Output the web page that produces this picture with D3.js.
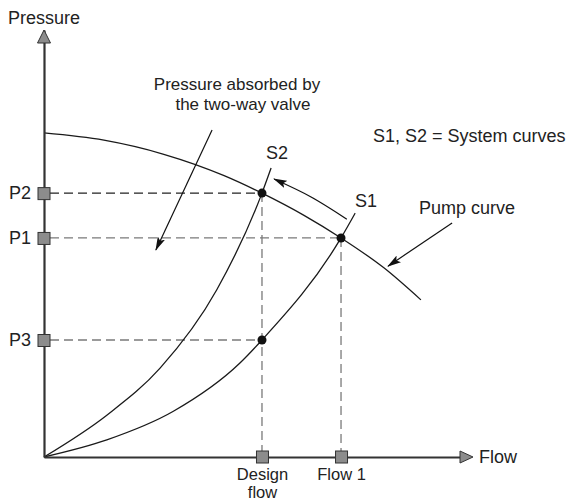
<!DOCTYPE html>
<html>
<head>
<meta charset="utf-8">
<script src="https://cdn.jsdelivr.net/npm/d3@7"></script>
<style>
  body { margin: 0; background: #fff; }
  text { font-family: "Liberation Sans", Arial, sans-serif; fill: #222; }
</style>
</head>
<body>
<div class="graph"></div>
<script>
// curves (flow and pressure in % of axis)
var pumpFlow = [0, 14.4, 28.8, 43.3, 52.4, 62.5, 71.4, 81.7, 90.6];
var pumpPressure = [75.9, 74.2, 70.9, 65.9, 61.8, 56.6, 51.3, 44.3, 36.8];
var s1Flow = [0, 15.1, 31.1, 47.1, 52.4, 71.4, 74.8];
var s1Pressure = [0, 4.0, 10.7, 22.0, 27.4, 51.3, 57.1];
var s2Flow = [0, 15.1, 27.9, 41.5, 52.4, 54.6];
var s2Pressure = [0, 9.8, 20.8, 39.1, 61.8, 67.7];

// tick marks on the axes
var pressureLabels = ['P2', 'P1', 'P3'];
var pressureValues = [61.8, 51.3, 27.4];
var pressureFlows = [52.4, 71.4, 52.4];
var flowLabels = ['Design\nflow', 'Flow 1'];
var flowValues = [52.4, 71.4];
var flowPressures = [61.8, 51.3];

var width = 575, height = 503;

var svg = d3.select('div.graph')
  .append('svg')
    .attr('width', width)
    .attr('height', height);

var x = d3.scaleLinear().domain([0, 100]).range([44, 460]);
var y = d3.scaleLinear().domain([0, 100]).range([457, 30]);

var defs = svg.append('defs');
defs.append('marker')
    .attr('id', 'head')
    .attr('markerUnits', 'userSpaceOnUse')
    .attr('viewBox', '0 0 14 8')
    .attr('refX', 13)
    .attr('refY', 4)
    .attr('markerWidth', 14)
    .attr('markerHeight', 8)
    .attr('orient', 'auto')
  .append('path')
    .attr('d', 'M0,0L14,4L0,8L3,4Z')
    .attr('fill', '#111');

// dashed guide lines
svg.selectAll('.hdash')
  .data(pressureValues)
  .enter()
  .append('line')
    .attr('x1', x(0) + 6)
    .attr('x2', (d, i) => x(pressureFlows[i]))
    .attr('y1', (d) => y(d))
    .attr('y2', (d) => y(d))
    .attr('stroke', (d, i) => i === 0 ? '#222' : '#7a7a7a')
    .attr('stroke-width', 1.3)
    .attr('stroke-dasharray', '9,5');

svg.selectAll('.vdash')
  .data(flowValues)
  .enter()
  .append('line')
    .attr('x1', (d) => x(d))
    .attr('x2', (d) => x(d))
    .attr('y1', (d, i) => y(flowPressures[i]))
    .attr('y2', y(0) - 6)
    .attr('stroke', '#7a7a7a')
    .attr('stroke-width', 1.3)
    .attr('stroke-dasharray', '9,5');

// curves
var curveLine = d3.line()
  .x((d) => x(d[0]))
  .y((d) => y(d[1]))
  .curve(d3.curveMonotoneX);

var line = d3.line()
  .x((d) => x(d[0]))
  .y((d) => y(d[1]))
  .curve(d3.curveCatmullRom.alpha(0.5));

[[pumpFlow, pumpPressure], [s1Flow, s1Pressure], [s2Flow, s2Pressure]].forEach((c) => {
  svg.append('path')
      .datum(c[0].map((f, i) => [f, c[1][i]]))
      .attr('d', curveLine)
      .attr('fill', 'none')
      .attr('stroke', '#1a1a1a')
      .attr('stroke-width', 1.3);
});

// operating points
svg.selectAll('.pt')
  .data(pressureValues)
  .enter()
  .append('circle')
    .attr('cx', (d, i) => x(pressureFlows[i]))
    .attr('cy', (d) => y(d))
    .attr('r', 4.5)
    .attr('fill', '#111');

// axes
var yAxis = svg.append('g')
    .attr('transform', 'translate(' + x(0) + ',0)')
    .call(d3.axisLeft(y)
      .tickValues(pressureValues)
      .tickFormat((d, i) => pressureLabels[i])
      .tickSize(0)
      .tickSizeOuter(0)
      .tickPadding(13));

var xAxis = svg.append('g')
    .attr('transform', 'translate(0,' + y(0) + ')')
    .call(d3.axisBottom(x)
      .tickValues(flowValues)
      .tickFormat((d, i) => flowLabels[i])
      .tickSize(0)
      .tickSizeOuter(0)
      .tickPadding(11));

[yAxis, xAxis].forEach((g) => {
  g.select('.domain').attr('stroke', '#333').attr('stroke-width', 2.2);
  g.selectAll('.tick text')
      .style('font-size', '18px')
      .style('font-family', '"Liberation Sans", Arial, sans-serif')
      .attr('fill', '#222');
  g.selectAll('.tick')
    .append('rect')
      .attr('x', -6)
      .attr('y', -6)
      .attr('width', 12)
      .attr('height', 12)
      .attr('fill', '#8c8c8c')
      .attr('stroke', '#333')
      .attr('stroke-width', 1);
});

xAxis.selectAll('.tick text').each(function(d, i) {
  var t = d3.select(this);
  var lines = flowLabels[i].split('\n');
  t.text(null);
  t.style('font-size', '16.5px');
  lines.forEach((l, k) => {
    t.append('tspan')
        .attr('x', 0)
        .attr('dy', k === 0 ? '12px' : '18px')
        .text(l);
  });
});

// axis arrowheads
svg.append('path')
    .attr('d', 'M' + (x(0) - 6.5) + ',' + (y(100) + 13) + 'L' + x(0) + ',' + y(100) +
               'L' + (x(0) + 6.5) + ',' + (y(100) + 13) + 'Z')
    .attr('fill', '#8c8c8c')
    .attr('stroke', '#333')
    .attr('stroke-width', 1);
svg.append('path')
    .attr('d', 'M' + x(100) + ',' + (y(0) - 6) + 'L' + (x(100) + 13) + ',' + y(0) +
               'L' + x(100) + ',' + (y(0) + 6) + 'Z')
    .attr('fill', '#8c8c8c')
    .attr('stroke', '#333')
    .attr('stroke-width', 1);

// annotation arrows
var arrows = [
  [[40.4, 76.6], [26.9, 48.5]],
  [[98.1, 54.8], [82.7, 44.7]],
  [[72.8, 55.7], [64.2, 60.9], [55.3, 65.1]]
];
arrows.forEach((a) => {
  svg.append('path')
      .datum(a)
      .attr('d', line)
      .attr('fill', 'none')
      .attr('stroke', '#111')
      .attr('stroke-width', 1.2)
      .attr('marker-end', 'url(#head)');
});

// labels
var labels = [
  {t: 'Pressure', x: 8, y: 24, a: 'start', s: 18},
  {t: 'Flow', x: 479, y: 463, a: 'start', s: 18},
  {t: 'Pressure absorbed by', x: 237, y: 90, a: 'middle', s: 17},
  {t: 'the two-way valve', x: 243, y: 110, a: 'middle', s: 17},
  {t: 'S1, S2 = System curves', x: 373, y: 142, a: 'start', s: 18},
  {t: 'S2', x: 266, y: 159, a: 'start', s: 18},
  {t: 'S1', x: 355, y: 207, a: 'start', s: 18},
  {t: 'Pump curve', x: 419, y: 214, a: 'start', s: 18}
];
svg.selectAll('.lbl')
  .data(labels)
  .enter()
  .append('text')
    .attr('x', (d) => d.x)
    .attr('y', (d) => d.y)
    .attr('text-anchor', (d) => d.a)
    .style('font-size', (d) => d.s + 'px')
    .text((d) => d.t);
</script>
</body>
</html>
